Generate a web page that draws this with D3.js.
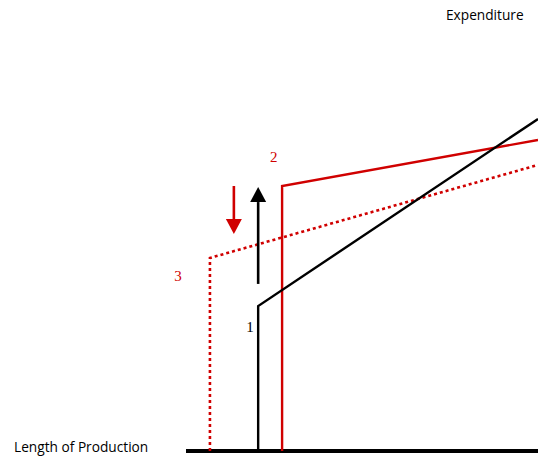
<!DOCTYPE html>
<html>
<head>
<meta charset="utf-8">
<script src="https://cdn.jsdelivr.net/npm/d3@7"></script>
<style>
  body { margin: 0; background: #fff; }
  svg { display: block; }
</style>
</head>
<body>
<svg id="chart" width="538" height="456"></svg>
<script>
// curves: [x, y] in chart units (x = length of production, y = expenditure)
const curve1 = [[2.05, 0], [2.05, 4.13], [10, 9.46]];
const curve2 = [[2.73, 0], [2.73, 7.55], [10, 8.86]];
const curve3 = [[0.68, 0], [0.68, 5.5], [10, 8.15]];
const curveLabels = [
  { text: "1", x: 1.82, y: 3.5, color: "#000" },
  { text: "2", x: 2.49, y: 8.34, color: "#d00000" },
  { text: "3", x: -0.23, y: 4.95, color: "#d00000" }
];
// arrows: from -> to
const arrowDown = [[1.36, 7.55], [1.36, 6.18]];
const arrowUp = [[2.05, 4.76], [2.05, 7.52]];

const svg = d3.select("#chart");
const x = d3.scaleLinear().domain([0, 10]).range([186, 538]);
const y = d3.scaleLinear().domain([0, 10]).range([451, 100]);
const red = "#d00000";

const line = d3.line().x(d => x(d[0])).y(d => y(d[1]));

// baseline
svg.append("line")
  .attr("x1", x(0)).attr("x2", x(10))
  .attr("y1", y(0)).attr("y2", y(0))
  .attr("stroke", "#000").attr("stroke-width", 4);

svg.append("path").datum(curve3)
  .attr("fill", "none").attr("stroke", red)
  .attr("stroke-width", 2.6).attr("stroke-dasharray", "3,3")
  .attr("d", line);

svg.append("path").datum(curve2)
  .attr("fill", "none").attr("stroke", red)
  .attr("stroke-width", 2.4)
  .attr("d", line);

svg.append("path").datum(curve1)
  .attr("fill", "none").attr("stroke", "#000")
  .attr("stroke-width", 2.4)
  .attr("d", line);

// arrows
function arrow(pts, color) {
  const [a, b] = pts;
  const dir = Math.sign(y(b[1]) - y(a[1]));
  const headLen = 15, half = 8;
  const tipY = y(b[1]);
  const baseY = tipY - dir * headLen;
  svg.append("line")
    .attr("x1", x(a[0])).attr("x2", x(b[0]))
    .attr("y1", y(a[1])).attr("y2", baseY)
    .attr("stroke", color).attr("stroke-width", 2.6);
  svg.append("path")
    .attr("d", `M${x(b[0]) - half},${baseY} L${x(b[0]) + half},${baseY} L${x(b[0])},${tipY} Z`)
    .attr("fill", color);
}
arrow(arrowDown, red);
arrow(arrowUp, "#000");

// labels
svg.selectAll(".clabel").data(curveLabels).enter().append("text")
  .attr("class", "clabel")
  .attr("x", d => x(d.x)).attr("y", d => y(d.y))
  .attr("text-anchor", "middle").attr("dominant-baseline", "middle")
  .attr("font-family", "Liberation Serif, serif").attr("font-size", 15)
  .attr("fill", d => d.color)
  .text(d => d.text);

svg.append("text")
  .attr("x", 14).attr("y", 452)
  .attr("font-family", "Open Sans, sans-serif").attr("font-size", 13.7)
  .text("Length of Production");

svg.append("text")
  .attr("x", 446).attr("y", 20)
  .attr("font-family", "Open Sans, sans-serif").attr("font-size", 13.7)
  .text("Expenditure");
</script>
</body>
</html>
